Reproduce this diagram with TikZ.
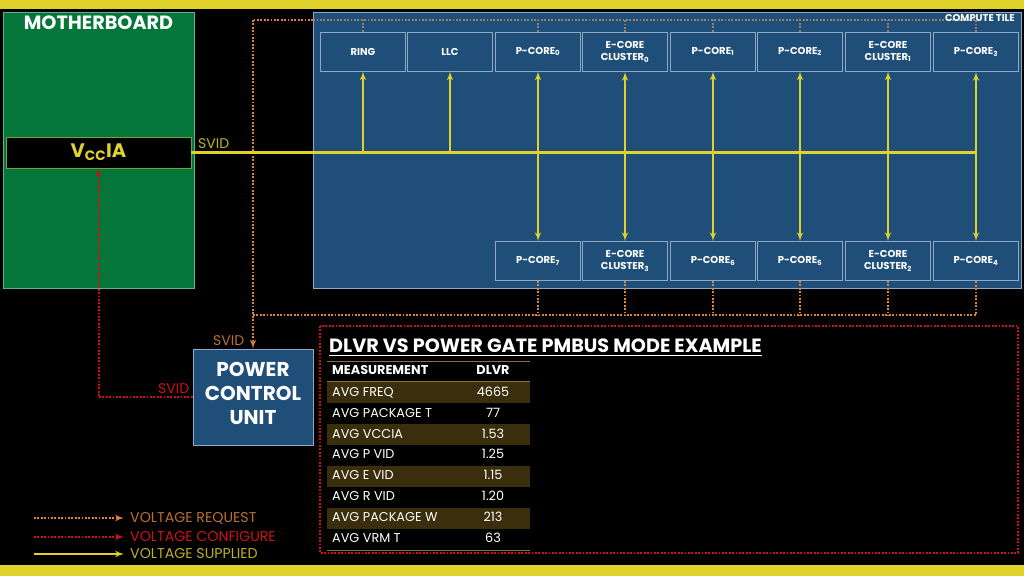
\documentclass[tikz,border=0pt]{standalone}
\usepackage{fontspec}
\setmainfont{Poppins}
\usepackage{tikz}
\usetikzlibrary{arrows}
\definecolor{barcol}{HTML}{E0D12B}
\definecolor{boardcol}{HTML}{04763A}
\definecolor{tilecol}{HTML}{1F4E79}
\definecolor{tileedge}{HTML}{8FA9C4}
\definecolor{reqcol}{HTML}{DD8438}
\definecolor{reqdim}{HTML}{9C7F68}
\definecolor{cfgcol}{HTML}{D01018}
\definecolor{banddark}{HTML}{3A2E0C}
\definecolor{rulecol}{HTML}{8A7230}
\tikzstyle{core} = [draw=tileedge, line width=0.8pt, inner sep=0pt, minimum width=85pt, minimum height=39pt, align=center, text=white, font=\bfseries\fontsize{10}{12.2}\selectfont]
\tikzstyle{supply} = [draw=barcol, line width=2pt]
\tikzstyle{supplyarrow} = [draw=barcol, line width=2pt, -latex']
\tikzstyle{request} = [draw=reqcol, line width=2pt, dash pattern=on 1.8pt off 1.6pt]
\tikzstyle{requestdim} = [draw=reqdim, line width=2pt, dash pattern=on 1.8pt off 1.6pt]
\tikzstyle{configure} = [draw=cfgcol, line width=2pt, dash pattern=on 1.8pt off 1.6pt]
\tikzstyle{band} = [fill=banddark, inner sep=0pt, minimum width=203pt, minimum height=21pt]
\tikzstyle{rowname} = [anchor=base west, inner sep=0pt, text=white, font=\fontsize{12.8}{14}\selectfont]
\tikzstyle{rowval} = [anchor=base, inner sep=0pt, text=white, font=\fontsize{12.8}{14}\selectfont]
\tikzstyle{tabrule} = [draw=rulecol, line width=1pt]
\tikzstyle{legend} = [anchor=base west, inner sep=0pt, font=\fontsize{14.2}{16}\selectfont]
\begin{document}
\begin{tikzpicture}[x=1pt,y=-1pt]
    \useasboundingbox (0,0) rectangle (1024,576);
    \fill[black] (0,0) rectangle (1024,576);
    \fill[barcol] (0,0) rectangle (1024,9);
    \fill[barcol] (0,565) rectangle (1024,576);

    % motherboard
    \node[draw=boardcol!60!white, fill=boardcol, line width=0.8pt, inner sep=0pt, minimum width=191pt, minimum height=276pt] (BOARD) at (98.5,150.5) {};
    \node[inner sep=0pt, text=white, font=\bfseries\fontsize{19.2}{20}\selectfont] (BOARDno) at (98.5,23) {MOTHERBOARD};
    \node[draw=boardcol!50!barcol, fill=black, line width=0.8pt, inner sep=0pt, minimum width=185pt, minimum height=31pt] (VCC) at (98.5,152.5) {};
    \node[inner sep=0pt, text=barcol, font=\bfseries\fontsize{19.5}{20}\selectfont] (VCCno) at (98.5,152.5) {V\textsubscript{CC}IA};

    % compute tile
    \node[draw=tileedge, fill=tilecol, line width=0.8pt, inner sep=0pt, minimum width=707.5pt, minimum height=276pt] (TILE) at (667.25,150.5) {};

    % top row
    \node[core] (RG) at (363,51.5) {RING};
    \node[core] (LL) at (450,51.5) {LLC};
    \node[core] (PC0) at (538,51.5) {P-CORE\textsubscript{0}};
    \node[core] (EC0) at (625,52) {E-CORE\\CLUSTER\textsubscript{0}};
    \node[core] (PC1) at (713,51.5) {P-CORE\textsubscript{1}};
    \node[core] (PC2) at (800,51.5) {P-CORE\textsubscript{2}};
    \node[core] (EC1) at (888,51.5) {E-CORE\\CLUSTER\textsubscript{1}};
    \node[core] (PC3) at (976,52) {P-CORE\textsubscript{3}};

    % bottom row
    \node[core] (PC7) at (538,261) {P-CORE\textsubscript{7}};
    \node[core] (EC3) at (625,261) {E-CORE\\CLUSTER\textsubscript{3}};
    \node[core] (PC6) at (713,261) {P-CORE\textsubscript{6}};
    \node[core] (PC5) at (800,261) {P-CORE\textsubscript{5}};
    \node[core] (EC2) at (888,261) {E-CORE\\CLUSTER\textsubscript{2}};
    \node[core] (PC4) at (976,261) {P-CORE\textsubscript{4}};

    \node[draw=tileedge, fill=tilecol, line width=0.8pt, inner sep=0pt, minimum width=120pt, minimum height=96pt] (PCU) at (253,397) {};
    \node[inner sep=0pt, align=center, text=white, font=\bfseries\fontsize{20}{23.6}\selectfont] (PCUno) at (253,393.5) {POWER\\CONTROL\\UNIT};

    \coordinate (reqtop) at (253,20);
    \coordinate (reqbot) at (253,315);

    % voltage request
    \draw[requestdim] (TILE.west |- reqtop) -- (PC3.north |- reqtop);
    \draw[requestdim] (RG.north) -- (RG.north |- reqtop);
    \draw[requestdim] (PC0.north) -- (PC0.north |- reqtop);
    \draw[requestdim] (EC0.north) -- (EC0.north |- reqtop);
    \draw[requestdim] (PC1.north) -- (PC1.north |- reqtop);
    \draw[requestdim] (PC2.north) -- (PC2.north |- reqtop);
    \draw[requestdim] (EC1.north) -- (EC1.north |- reqtop);
    \draw[requestdim] (PC3.north) -- (PC3.north |- reqtop);
    \draw[request] (TILE.west |- reqtop) -- (reqtop);
    \draw[request,-latex'] (reqtop) -- (PCU.north);
    \draw[request] (reqbot) -- (PC4.south |- reqbot) -- (PC4.south);
    \draw[request] (PC7.south) -- (PC7.south |- reqbot);
    \draw[request] (EC3.south) -- (EC3.south |- reqbot);
    \draw[request] (PC6.south) -- (PC6.south |- reqbot);
    \draw[request] (PC5.south) -- (PC5.south |- reqbot);
    \draw[request] (EC2.south) -- (EC2.south |- reqbot);

    % voltage configure
    \draw[configure,-latex'] (PCU.west) -| (VCC.south);

    % voltage supplied
    \draw[supply,line width=3pt] (VCC.east) -- (PC3.south |- VCC.east);
    \draw[supplyarrow] (RG.south |- VCC.east) -- (RG.south);
    \draw[supplyarrow] (LL.south |- VCC.east) -- (LL.south);
    \draw[supply,latex'-latex'] (PC0.south) -- (PC7.north);
    \draw[supply,latex'-latex'] (EC0.south) -- (EC3.north);
    \draw[supply,latex'-latex'] (PC1.south) -- (PC6.north);
    \draw[supply,latex'-latex'] (PC2.south) -- (PC5.north);
    \draw[supply,latex'-latex'] (EC1.south) -- (EC2.north);
    \draw[supply,latex'-latex'] (PC3.south) -- (PC4.north);

    \node[anchor=east, inner sep=0pt, text=white, font=\bfseries\fontsize{9.9}{10}\selectfont] (TILEno) at (1015,18.5) {COMPUTE TILE};
    \node[anchor=west, inner sep=0pt, text=barcol!85!black, font=\fontsize{14}{15}\selectfont] (SVIDa) at (198,143.5) {SVID};
    \node[anchor=west, inner sep=0pt, text=reqcol!85!black, font=\fontsize{14}{15}\selectfont] (SVIDb) at (213,340.5) {SVID};
    \node[anchor=west, inner sep=0pt, text=cfgcol, font=\fontsize{14}{15}\selectfont] (SVIDc) at (158,388.5) {SVID};

    % table
    \draw[configure] (320,326) rectangle (1018,553);
    \node[anchor=west, inner sep=0pt, text=white, font=\bfseries\fontsize{19.2}{20}\selectfont] (TITLE) at (329,346) {DLVR VS POWER GATE PMBUS MODE EXAMPLE};
    \draw[white, line width=1pt] (TITLE.west |- 0,355.5) -- (TITLE.east |- 0,355.5);

    \node[band] (B1) at (428.5,392.5) {};
    \node[band] (B3) at (428.5,434.5) {};
    \node[band] (B5) at (428.5,476.5) {};
    \node[band] (B7) at (428.5,518.5) {};
    \draw[tabrule] (B1.north west |- 0,361) -- (B1.north east |- 0,361);
    \draw[tabrule] (B1.north west) -- (B1.north east);
    \draw[tabrule] (B1.north west |- 0,550) -- (B1.north east |- 0,550);

    \node[rowname,font=\bfseries\fontsize{12.8}{14}\selectfont] (HN) at (332,374.5) {MEASUREMENT};
    \node[rowval,font=\bfseries\fontsize{12.8}{14}\selectfont] (HV) at (493,374.5) {DLVR};
    \node[rowname] (N1) at (332,396) {AVG FREQ};
    \node[rowval] (V1) at (493,396) {4665};
    \node[rowname] (N2) at (332,417) {AVG PACKAGE T};
    \node[rowval] (V2) at (493,417) {77};
    \node[rowname] (N3) at (332,438) {AVG VCCIA};
    \node[rowval] (V3) at (493,438) {1.53};
    \node[rowname] (N4) at (332,458.5) {AVG P VID};
    \node[rowval] (V4) at (493,458.5) {1.25};
    \node[rowname] (N5) at (332,479.5) {AVG E VID};
    \node[rowval] (V5) at (493,479.5) {1.15};
    \node[rowname] (N6) at (332,500.5) {AVG R VID};
    \node[rowval] (V6) at (493,500.5) {1.20};
    \node[rowname] (N7) at (332,521.5) {AVG PACKAGE W};
    \node[rowval] (V7) at (493,521.5) {213};
    \node[rowname] (N8) at (332,542.5) {AVG VRM T};
    \node[rowval] (V8) at (493,542.5) {63};

    % legend
    \node[legend,text=reqcol!85!black] (LGa) at (130,522.5) {VOLTAGE REQUEST};
    \node[legend,text=cfgcol] (LGb) at (130,541) {VOLTAGE CONFIGURE};
    \node[legend,text=barcol!85!black] (LGc) at (130,558.5) {VOLTAGE SUPPLIED};
    \coordinate (LSa) at (34,518);
    \coordinate (LSb) at (34,537);
    \coordinate (LSc) at (34,554);
    \coordinate (LEa) at (124,518);
    \coordinate (LEb) at (124,537);
    \coordinate (LEc) at (124,554);
    \draw[request,-latex'] (LSa) -- (LEa);
    \draw[configure,-latex'] (LSb) -- (LEb);
    \draw[supplyarrow] (LSc) -- (LEc);
\end{tikzpicture}
\end{document}
